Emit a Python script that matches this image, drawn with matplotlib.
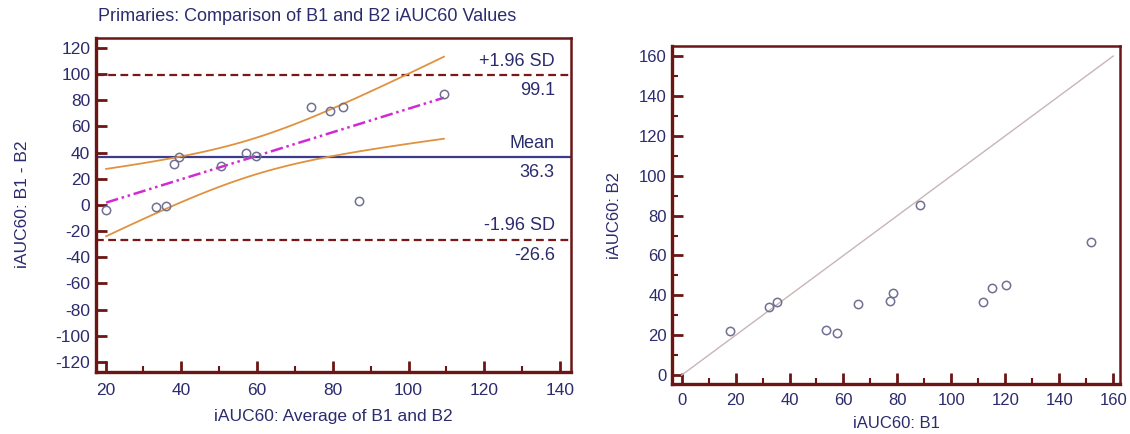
import matplotlib.pyplot as plt
import numpy as np
from matplotlib.ticker import MultipleLocator
import matplotlib.transforms as mtrans

plt.rcParams['font.family'] = ['Liberation Sans', 'DejaVu Sans']
plt.rcParams['axes.unicode_minus'] = False

# iAUC60 for each subject on the two visits
b1 = [18.1, 32.4, 35.4, 53.6, 57.7, 65.3, 77.1, 78.4, 88.2, 111.6, 115.2, 120.2, 151.7]
b2 = [22.2, 34.2, 36.5, 22.5, 21.2, 35.7, 37.3, 41.0, 85.5, 36.7, 43.5, 45.3, 67.0]

# Bland-Altman summary lines
mean_diff = 36.3
upper_loa = 99.1
lower_loa = -26.6
t_975 = 2.201  # t(0.975, n-2) for n=13

navy = "#2b2b6e"
maroon = "#6b1515"
circ = "#707092"

b1 = np.array(b1)
b2 = np.array(b2)
avg = (b1 + b2) / 2
diff = b1 - b2

fig = plt.figure(figsize=(11.3, 4.34), dpi=100)
ax1 = fig.add_axes([0.0847, 0.1435, 0.4206, 0.7696])
ax2 = fig.add_axes([0.5951, 0.1145, 0.3960, 0.7802])


def style(ax, fs, ypad, xpad):
    for side in ["left", "bottom"]:
        ax.spines[side].set_linewidth(2.4)
    for side in ["top", "right"]:
        ax.spines[side].set_linewidth(1.8)
    for sp in ax.spines.values():
        sp.set_color(maroon)
    ax.tick_params(which="major", direction="in", length=8, width=2, color=maroon,
                   labelcolor=navy, labelsize=fs)
    ax.tick_params(which="minor", direction="in", length=4, width=1.5, color=maroon)
    ax.tick_params(axis="y", pad=ypad)
    ax.tick_params(axis="x", pad=xpad)
    ax.tick_params(top=False, right=False, which="both")


# --- Bland-Altman plot ---
ax1.set_xlim(17.4, 142.9)
ax1.set_ylim(-127.4, 127.7)
ax1.xaxis.set_major_locator(MultipleLocator(20))
ax1.xaxis.set_minor_locator(MultipleLocator(10))
ax1.yaxis.set_major_locator(MultipleLocator(20))
style(ax1, 12.5, 4, 8)

ax1.axhline(mean_diff, color="#3c3c8a", lw=1.6, zorder=2)
ax1.axhline(upper_loa, color="#7a1818", lw=1.6, ls=(0, (3.5, 2)), zorder=2)
ax1.axhline(lower_loa, color="#7a1818", lw=1.6, ls=(0, (3.5, 2)), zorder=2)

# regression of difference on average, with 95% confidence band
slope, icpt = np.polyfit(avg, diff, 1)
xs = np.linspace(avg.min(), avg.max(), 100)
n = len(avg)
resid = diff - (slope * avg + icpt)
s = np.sqrt(np.sum(resid ** 2) / (n - 2))
sxx = np.sum((avg - avg.mean()) ** 2)
se = s * np.sqrt(1 / n + (xs - avg.mean()) ** 2 / sxx)
fit = slope * xs + icpt
ax1.plot(xs, fit + t_975 * se, color="#e0923e", lw=1.3, zorder=3)
ax1.plot(xs, fit - t_975 * se, color="#e0923e", lw=1.3, zorder=3)
reg, = ax1.plot(xs, fit, color="#d22ad2", lw=1.8, zorder=3)
reg.set_dashes([5, 1.5, 1, 1.5, 1, 1.5])

ax1.plot(avg, diff, "o", ms=6, mfc="none", mec=circ, mew=1.1, zorder=4)

tr = mtrans.blended_transform_factory(ax1.transAxes, ax1.transData)
for val, name in [(upper_loa, "+1.96 SD"), (mean_diff, "Mean"), (lower_loa, "-1.96 SD")]:
    ax1.annotate(name, (0.966, val), xycoords=tr, xytext=(0, 4), textcoords="offset points",
                 ha="right", va="bottom", color=navy, fontsize=13)
    ax1.annotate(f"{val:.1f}", (0.966, val), xycoords=tr, xytext=(0, -5), textcoords="offset points",
                 ha="right", va="top", color=navy, fontsize=13)

ax1.set_xlabel("iAUC60: Average of B1 and B2", color=navy, fontsize=12.5, labelpad=8)
ax1.set_ylabel("iAUC60: B1 - B2", color=navy, fontsize=12.5, labelpad=18)
fig.text(0.2717, 0.963, "Primaries: Comparison of B1 and B2 iAUC60 Values",
         ha="center", va="center", color=navy, fontsize=13)

# --- scatter of B2 against B1 ---
ax2.set_xlim(-3.4, 162.5)
ax2.set_ylim(-4.6, 165.2)
ax2.xaxis.set_major_locator(MultipleLocator(20))
ax2.xaxis.set_minor_locator(MultipleLocator(10))
ax2.yaxis.set_major_locator(MultipleLocator(20))
ax2.yaxis.set_minor_locator(MultipleLocator(10))
style(ax2, 12, 4, 6)

ax2.plot([0, 160], [0, 160], color="#c9b5b5", lw=1.0, zorder=2)
ax2.plot(b1, b2, "o", ms=6, mfc="none", mec=circ, mew=1.1, zorder=4)

ax2.set_xlabel("iAUC60: B1", color=navy, fontsize=12, labelpad=6)
ax2.set_ylabel("iAUC60: B2", color=navy, fontsize=12, labelpad=12)

fig.savefig("out.png", dpi=100, facecolor="white")
